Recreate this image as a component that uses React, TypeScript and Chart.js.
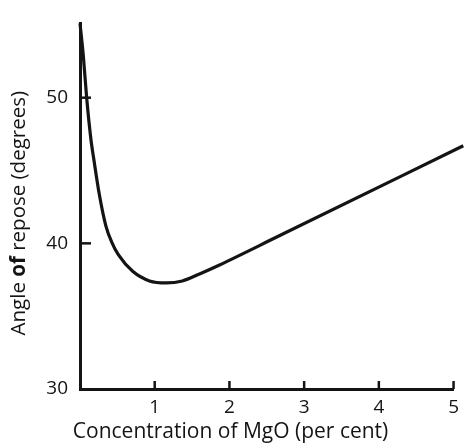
import React, { useEffect, useRef } from 'react';
import { Chart, registerables } from 'chart.js';

Chart.register(...registerables);

// MgO concentration (per cent)
const concentration = [0, 0.044, 0.089, 0.146, 0.19, 0.257, 0.346, 0.426, 0.515, 0.705, 0.93, 1.156, 1.37, 1.6, 1.86, 2.66, 5.13];
// Angle of repose (degrees)
const angle = [55.1, 52.9, 50.0, 47.15, 45.6, 43.4, 41.2, 40.07, 39.2, 38.08, 37.42, 37.28, 37.42, 37.9, 38.5, 40.5, 46.7];

const xTickValues = [1, 2, 3, 4, 5];
const yTickValues = [30, 40, 50];

const xTitleText = 'Concentration of MgO (per cent)';
const yTitleParts = [
  { text: 'Angle ', bold: false },
  { text: 'of', bold: true },
  { text: ' repose (degrees)', bold: false },
];

const FONT = '"Open Sans", sans-serif';
const INK = '#141414';

const innerTicks = {
  id: 'innerTicks',
  afterDatasetsDraw(chart: any) {
    const { ctx, scales } = chart;
    const x = scales.x;
    const y = scales.y;
    ctx.save();
    ctx.strokeStyle = INK;
    ctx.lineWidth = 2.5;
    yTickValues.forEach((v) => {
      if (v === y.min) return;
      const py = y.getPixelForValue(v);
      ctx.beginPath();
      ctx.moveTo(x.left, py);
      ctx.lineTo(x.left + 11, py);
      ctx.stroke();
    });
    xTickValues.forEach((v) => {
      const px = x.getPixelForValue(v);
      ctx.beginPath();
      ctx.moveTo(px, y.bottom);
      ctx.lineTo(px, y.bottom - 8);
      ctx.stroke();
    });
    ctx.restore();
  },
};

const axisTitles = {
  id: 'axisTitles',
  afterDraw(chart: any) {
    const { ctx } = chart;
    const x = chart.scales.x;
    const y = chart.scales.y;
    ctx.save();
    ctx.fillStyle = INK;
    ctx.textBaseline = 'middle';

    // x title
    ctx.font = `21px ${FONT}`;
    ctx.textAlign = 'center';
    ctx.fillText(xTitleText, x.left + (x.right - x.left) * 0.403, 432);

    // y title with bold "of"
    const size = 20.5;
    const fontOf = (b: boolean) => `${b ? 'bold ' : ''}${size}px ${FONT}`;
    let total = 0;
    yTitleParts.forEach((p) => {
      ctx.font = fontOf(p.bold);
      total += ctx.measureText(p.text).width;
    });
    const cy = (y.top + y.bottom) / 2 + 7;
    ctx.translate(19, cy);
    ctx.rotate(-Math.PI / 2);
    ctx.textAlign = 'left';
    let pos = -total / 2;
    yTitleParts.forEach((p) => {
      ctx.font = fontOf(p.bold);
      ctx.fillText(p.text, pos, 0);
      pos += ctx.measureText(p.text).width;
    });
    ctx.restore();
  },
};

export default function App() {
  const ref = useRef<HTMLCanvasElement | null>(null);

  useEffect(() => {
    if (!ref.current) return;
    const chart = new Chart(ref.current, {
      type: 'line',
      data: {
        datasets: [
          {
            data: concentration.map((c, i) => ({ x: c, y: angle[i] })),
            borderColor: INK,
            borderWidth: 3.2,
            pointRadius: 0,
            fill: false,
            cubicInterpolationMode: 'monotone',
            clip: false as any,
          },
        ],
      },
      options: {
        responsive: false,
        animation: false,
        layout: { padding: { top: 10, right: 10, left: 0, bottom: 0 } },
        plugins: { legend: { display: false }, tooltip: { enabled: false } },
        scales: {
          x: {
            type: 'linear',
            min: 0,
            max: 5,
            afterBuildTicks: (scale: any) => {
              scale.ticks = xTickValues.map((v) => ({ value: v }));
            },
            afterFit: (scale: any) => {
              scale.height = 54;
            },
            grid: { display: false, drawTicks: false },
            border: { display: true, color: INK, width: 3 },
            ticks: {
              color: INK,
              padding: 7,
              font: { family: FONT, size: 19 },
              maxRotation: 0,
              autoSkip: false,
            },
            title: { display: false },
          },
          y: {
            type: 'linear',
            min: 30,
            max: 55.1,
            afterBuildTicks: (scale: any) => {
              scale.ticks = yTickValues.map((v) => ({ value: v }));
            },
            afterFit: (scale: any) => {
              scale.width = 80;
            },
            grid: { display: false, drawTicks: false },
            border: { display: true, color: INK, width: 3 },
            ticks: {
              color: INK,
              padding: 12,
              font: { family: FONT, size: 19 },
              autoSkip: false,
            },
            title: { display: false },
          },
        },
      },
      plugins: [innerTicks, axisTitles],
    });
    return () => chart.destroy();
  }, []);

  return (
    <div style={{ position: 'absolute', left: 0, top: 0, width: 466, height: 443, background: '#fff' }}>
      <canvas ref={ref} width={466} height={443} style={{ display: 'block' }} />
    </div>
  );
}
